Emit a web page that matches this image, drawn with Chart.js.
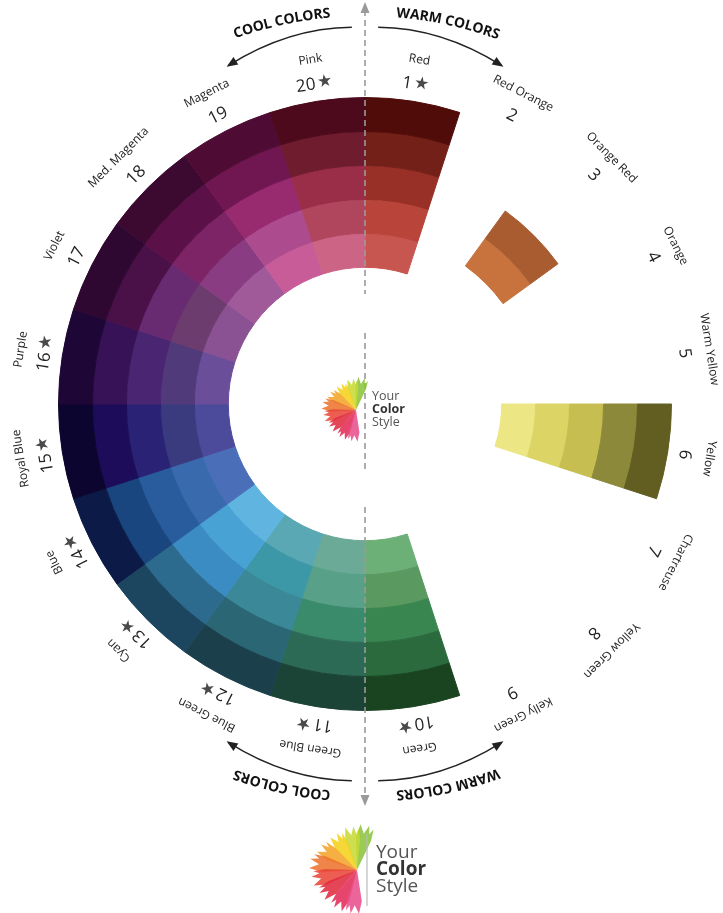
<!DOCTYPE html>
<html>
<head>
<meta charset="utf-8">
<title>Color Wheel</title>
<script src="https://cdn.jsdelivr.net/npm/chart.js@4.4.1/dist/chart.umd.min.js"></script>
<style>
  html, body { margin: 0; padding: 0; background: #fff; }
  #wheel { display: block; }
</style>
</head>
<body>
<canvas id="wheel" width="723" height="913"></canvas>
<script>
// Segments, clockwise from the top
const segNames = ['Red', 'Red Orange', 'Orange Red', 'Orange', 'Warm Yellow', 'Yellow', 'Chartreuse',
  'Yellow Green', 'Kelly Green', 'Green', 'Green Blue', 'Blue Green', 'Cyan', 'Blue', 'Royal Blue',
  'Purple', 'Violet', 'Med. Magenta', 'Magenta', 'Pink'];
const segNumbers = [1, 2, 3, 4, 5, 6, 7, 8, 9, 10, 11, 12, 13, 14, 15, 16, 17, 18, 19, 20];
const starred = [1, 10, 11, 12, 13, 14, 15, 16, 20];
const segSize = [1, 1, 1, 1, 1, 1, 1, 1, 1, 1, 1, 1, 1, 1, 1, 1, 1, 1, 1, 1];

// Ring colours, outer ring first (null = empty cell)
const ringOuter = ['#500c08', null, null, null, null, '#625e22', null, null, null, '#1a4420',
  '#1c4436', '#1b404c', '#1c4660', '#0b1a46', '#0c0530', '#1e0636', '#2e0830', '#3c0a30', '#4e0c34', '#4c0a1c'];
const ring2 = ['#722018', null, null, null, null, '#8c8a3a', null, null, null, '#2a6a3c',
  '#2c6a56', '#2a6674', '#2c6a8e', '#1a4680', '#1c0c5a', '#381256', '#4a1048', '#5c1048', '#701650', '#6e1c2e'];
const ring3 = ['#983028', null, '#a85c30', null, null, '#c6be50', null, null, null, '#3a8650',
  '#3a8a6c', '#3a8898', '#3a8cc2', '#285c9c', '#2a2274', '#4a2672', '#682a70', '#7c2466', '#982a70', '#9a2e48'];
const ring4 = ['#b8443a', null, '#c8733e', null, null, '#dcd464', null, null, null, '#5a9a60',
  '#58a088', '#3c98a6', '#48a2d4', '#3a6aae', '#3a3a7e', '#503a7a', '#6c3c6e', '#8a3c82', '#ac4c8e', '#b0465e'];
const ringInner = ['#c85650', null, null, null, null, '#ece684', null, null, null, '#6cb078',
  '#6aaa96', '#5aa8b4', '#60b4e0', '#4a6eb8', '#4c4a9a', '#6a4e9a', '#8a5292', '#a05a9a', '#c85c98', '#cc6486'];

const rings = [ringOuter, ring2, ring3, ring4, ringInner];
const EMPTY = 'rgba(0,0,0,0)';

const TEXT = '#222';
const GREY = '#4a4a4a';

function tangentText(ctx, cx, cy, r, ang, draw) {
  // ang: canvas angle (radians)
  ctx.save();
  ctx.translate(cx + r * Math.cos(ang), cy + r * Math.sin(ang));
  ctx.rotate(ang + Math.PI / 2);
  draw();
  ctx.restore();
}

function curvedText(ctx, text, cx, cy, r, centerDeg, spacing) {
  const widths = [...text].map(ch => ctx.measureText(ch).width + spacing);
  const total = widths.reduce((a, b) => a + b, 0) - spacing;
  let a = centerDeg * Math.PI / 180 - total / (2 * r);
  [...text].forEach((ch, i) => {
    const w = widths[i] - spacing;
    const clock = a + w / (2 * r);
    tangentText(ctx, cx, cy, r, clock - Math.PI / 2, () => ctx.fillText(ch, 0, 0));
    a += widths[i] / r;
  });
}

function polar(cx, cy, r, deg) {
  const p = (deg - 90) * Math.PI / 180;
  return [cx + r * Math.cos(p), cy + r * Math.sin(p)];
}

function arrowHead(ctx, tip, from, size) {
  const dx = tip[0] - from[0], dy = tip[1] - from[1];
  const len = Math.hypot(dx, dy);
  const ux = dx / len, uy = dy / len;
  ctx.beginPath();
  ctx.moveTo(tip[0] + ux * 2, tip[1] + uy * 2);
  ctx.lineTo(tip[0] - ux * size - uy * size * 0.5, tip[1] - uy * size + ux * size * 0.5);
  ctx.lineTo(tip[0] - ux * size + uy * size * 0.5, tip[1] - uy * size - ux * size * 0.5);
  ctx.closePath();
  ctx.fill();
}

function curvedArrow(ctx, cx, cy, side, bottom) {
  // side: +1 warm, -1 cool
  const base = bottom ? 180 : 0;
  const dir = bottom ? -side : side;
  const s = polar(cx, cy, 377, base + dir * 2);
  const c = polar(cx, cy, 384, base + dir * 11.5);
  const e = polar(cx, cy, 365, base + dir * 22);
  ctx.beginPath();
  ctx.moveTo(s[0], s[1]);
  ctx.quadraticCurveTo(c[0], c[1], e[0], e[1]);
  ctx.stroke();
  arrowHead(ctx, e, c, 9);
}

function drawIcon(ctx, fx, fy, s) {
  const petals = [
    { a: -78, l: 46, c: '#8cc43c' },
    { a: -98, l: 44, c: '#c6d936' },
    { a: -122, l: 42, c: '#f5d11c' },
    { a: -148, l: 44, c: '#f4a42a' },
    { a: -170, l: 48, c: '#ee7430' },
    { a: 168, l: 46, c: '#e9483a' },
    { a: 145, l: 44, c: '#e02c40' },
    { a: 118, l: 44, c: '#e22c58' },
    { a: 95, l: 44, c: '#e8508c' }
  ];
  ctx.save();
  ctx.globalAlpha = 0.88;
  petals.forEach(p => {
    const a = p.a * Math.PI / 180;
    const w = 0.24;
    const L = p.l * s;
    const pt = (ang, r) => [fx + r * Math.cos(ang), fy + r * Math.sin(ang)];
    const pts = [
      [fx, fy],
      pt(a - w, L * 0.72),
      pt(a - w * 0.55, L * 1.0),
      pt(a - w * 0.1, L * 0.8),
      pt(a + w * 0.25, L * 1.0),
      pt(a + w * 0.5, L * 0.82),
      pt(a + w * 0.75, L * 0.95),
      pt(a + w, L * 0.7)
    ];
    ctx.fillStyle = p.c;
    ctx.beginPath();
    pts.forEach((q, i) => i ? ctx.lineTo(q[0], q[1]) : ctx.moveTo(q[0], q[1]));
    ctx.closePath();
    ctx.fill();
  });
  ctx.restore();
}

function drawLogoText(ctx, x, y, size, gap) {
  ctx.textAlign = 'left';
  ctx.textBaseline = 'middle';
  ctx.fillStyle = '#555';
  ctx.font = size + 'px "Open Sans"';
  ctx.fillText('Your', x, y - gap);
  ctx.fillStyle = '#333';
  ctx.font = 'bold ' + size + 'px "Open Sans"';
  ctx.fillText('Color', x, y);
  ctx.fillStyle = '#555';
  ctx.font = size + 'px "Open Sans"';
  ctx.fillText('Style', x, y + gap);
}

const wheelDecor = {
  id: 'wheelDecor',
  afterDatasetsDraw(chart) {
    const ctx = chart.ctx;
    const arcs = chart.getDatasetMeta(0).data;
    const cx = arcs[0].x, cy = arcs[0].y, R = arcs[0].outerRadius;

    // dashed axis with arrowheads
    ctx.save();
    ctx.strokeStyle = '#9a9a9a';
    ctx.fillStyle = '#9a9a9a';
    ctx.lineWidth = 1.6;
    ctx.setLineDash([6, 4]);
    [[cy - 394, cy - 110], [cy - 71, cy + 68], [cy + 103, cy + 394]].forEach(([a, b]) => {
      ctx.beginPath();
      ctx.moveTo(cx, a);
      ctx.lineTo(cx, b);
      ctx.stroke();
    });
    ctx.setLineDash([]);
    arrowHead(ctx, [cx, cy - 400], [cx, cy - 380], 9);
    arrowHead(ctx, [cx, cy + 400], [cx, cy + 380], 9);
    ctx.restore();

    // segment numbers, stars and names
    ctx.save();
    arcs.forEach((arc, i) => {
      const mid = (arc.startAngle + arc.endAngle) / 2;
      const hasStar = starred.includes(segNumbers[i]);
      tangentText(ctx, cx, cy, R + 17, mid, () => {
        ctx.textBaseline = 'middle';
        ctx.textAlign = 'left';
        ctx.font = '17px "Open Sans"';
        const num = String(segNumbers[i]);
        const wn = ctx.measureText(num).width;
        ctx.font = '17px "DejaVu Sans"';
        const ws = hasStar ? ctx.measureText('★').width + 2 : 0;
        const x0 = -(wn + ws) / 2;
        ctx.fillStyle = TEXT;
        ctx.font = '17px "Open Sans"';
        ctx.fillText(num, x0, 0);
        if (hasStar) {
          ctx.fillStyle = GREY;
          ctx.font = '17px "DejaVu Sans"';
          ctx.fillText('★', x0 + wn + 2, -1);
        }
      });
      tangentText(ctx, cx, cy, R + 42, mid, () => {
        ctx.textBaseline = 'middle';
        ctx.textAlign = 'center';
        ctx.fillStyle = TEXT;
        ctx.font = '12px "Open Sans"';
        ctx.fillText(segNames[i], 0, 0);
      });
    });
    ctx.restore();

    // warm / cool headings
    ctx.save();
    ctx.fillStyle = '#111';
    ctx.font = 'bold 14px "Open Sans"';
    ctx.textAlign = 'center';
    ctx.textBaseline = 'middle';
    curvedText(ctx, 'WARM COLORS', cx, cy, 392, 12.3, 0);
    curvedText(ctx, 'COOL COLORS', cx, cy, 392, -12.3, 0);
    curvedText(ctx, 'WARM COLORS', cx, cy, 392, 167.7, 0);
    curvedText(ctx, 'COOL COLORS', cx, cy, 392, 192.3, 0);
    ctx.strokeStyle = '#222';
    ctx.fillStyle = '#222';
    ctx.lineWidth = 1.3;
    curvedArrow(ctx, cx, cy, 1, false);
    curvedArrow(ctx, cx, cy, -1, false);
    curvedArrow(ctx, cx, cy, 1, true);
    curvedArrow(ctx, cx, cy, -1, true);
    ctx.restore();

    // centre logo
    ctx.save();
    drawIcon(ctx, cx - 9, cy + 6, 0.72);
    drawLogoText(ctx, cx + 7, cy + 5, 12.5, 13);
    ctx.restore();

    // bottom logo
    ctx.save();
    drawIcon(ctx, cx - 8, cy + 466, 1.0);
    ctx.strokeStyle = '#bbb';
    ctx.lineWidth = 1.2;
    ctx.beginPath();
    ctx.moveTo(cx + 2, cy + 430);
    ctx.lineTo(cx + 2, cy + 502);
    ctx.stroke();
    drawLogoText(ctx, cx + 11, cy + 466, 19, 17);
    ctx.restore();
  }
};

new Chart(document.getElementById('wheel'), {
  type: 'doughnut',
  data: {
    labels: segNames,
    datasets: rings.map(ring => ({
      data: segSize,
      backgroundColor: ring.map(c => c || EMPTY),
      borderColor: ring.map(c => c || EMPTY),
      borderWidth: 1,
      hoverOffset: 0,
      hoverBorderWidth: 0
    }))
  },
  options: {
    responsive: false,
    animation: false,
    events: [],
    cutout: '44.6%',
    rotation: 0,
    layout: { padding: { left: 58, right: 51, top: 97, bottom: 202 } },
    plugins: {
      legend: { display: false },
      tooltip: { enabled: false }
    }
  },
  plugins: [wheelDecor]
});
</script>
</body>
</html>
